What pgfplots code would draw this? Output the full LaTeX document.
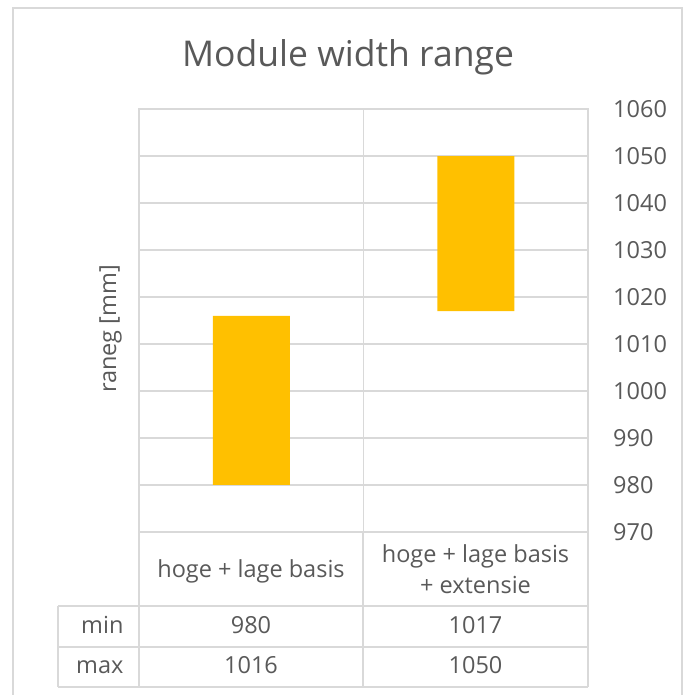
\documentclass[border=0pt]{standalone}
\usepackage{pgfplots}
\pgfplotsset{compat=1.18}
\usepackage{pgfplotstable}
\usepackage{fontspec}
\setmainfont{Open Sans}
\definecolor{txt}{HTML}{595959}
\definecolor{grd}{HTML}{D9D9D9}
\definecolor{barc}{HTML}{FFC000}
\pgfplotstableread{
x min max
0.5 980 1016
1.5 1017 1050
}\rangedata
\begin{document}
\begin{tikzpicture}[x=1pt,y=1pt,font=\fontsize{23.5}{28}\selectfont,text=txt]
\path[use as bounding box] (0,0) rectangle (683,695);
\draw[grd,line width=1.5pt] (13,-2) -- (13,687) -- (682,687) -- (682,-2);
\begin{axis}[
  at={(139pt,163pt)}, anchor=south west,
  width=449pt, height=423pt, scale only axis,
  xmin=0, xmax=2, ymin=970, ymax=1060,
  xtick={0,1,2}, xticklabels={,,},
  ytick={970,980,...,1060},
  grid=major, grid style={grd,line width=1.5pt},
  axis line style={grd,line width=1.5pt},
  major tick length=0pt,
  yticklabel pos=right,
  tick label style={color=txt},
  yticklabel style={anchor=west,inner sep=0pt,xshift=25pt,
    /pgf/number format/1000 sep={},
    /pgf/number format/assume math mode=true},
  ybar stacked, bar width=77pt,
]
\addplot[draw=none,fill=none] table[x=x,y=min] {\rangedata};
\addplot[draw=none,fill=barc] table[x=x,y expr=\thisrow{max}-\thisrow{min}] {\rangedata};
\end{axis}
% title and y label
\node[anchor=base,font=\fontsize{35.5}{42}\selectfont] at (348,628) {Module width range};
\node[rotate=90,anchor=center] at (110.5,366) {raneg [mm]};
% category and data table grid
\draw[grd,line width=1.5pt] (139,163) -- (139,8) (363,163) -- (363,8) (588,163) -- (588,8)
  (58,89) -- (58,8) (58,89) -- (588,89) (58,48) -- (588,48) (58,8) -- (588,8);
\node[anchor=base] at (251,117) {hoge + lage basis};
\node[anchor=base] at (475.5,132.5) {hoge + lage basis};
\node[anchor=base] at (475.5,101.5) {+ extensie};
\node[anchor=base east] at (127,61) {min};
\node[anchor=base east] at (127,21) {max};
\node[anchor=base] at (251,61) {980};
\node[anchor=base] at (475.5,61) {1017};
\node[anchor=base] at (251,21) {1016};
\node[anchor=base] at (475.5,21) {1050};
\end{tikzpicture}
\end{document}
